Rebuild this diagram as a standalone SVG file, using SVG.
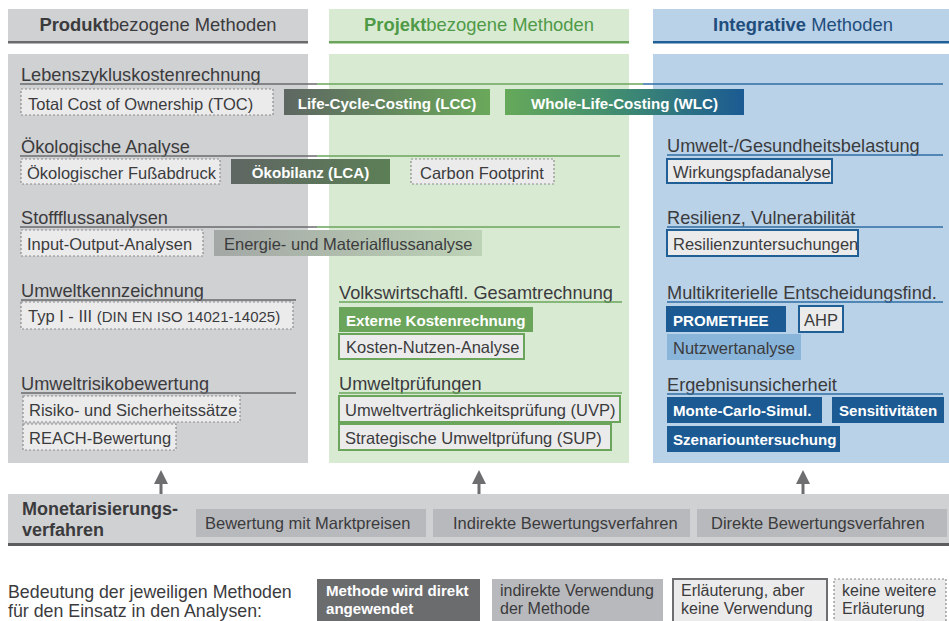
<svg xmlns="http://www.w3.org/2000/svg" width="949" height="621" viewBox="0 0 949 621">
<style>
text{font-family:"Liberation Sans",Arial,sans-serif;fill:#3b3b3d}
.hd{font-size:18.4px}
.sec{font-size:18.2px}
.bx{font-size:16.5px}
.wt{font-size:15.1px;font-weight:bold;fill:#fff}
.dash{fill:#ebebec;stroke:#8c8c8e;stroke-width:1.2;stroke-dasharray:2 2}
.sg{fill:#ebebec;stroke:#6aa55b;stroke-width:2}
.sb{fill:#ebebec;stroke:#1f5f95;stroke-width:2}
.ln{stroke-width:1.5;fill:none}
.lg{stroke:#6a6a6c}.lgr{stroke:#6aa55b}.lb{stroke:#2e6ca4}
.arr{fill:#6e6e70}
</style>
<defs>
<linearGradient id="gLCC" x1="0" x2="1" y1="0" y2="0"><stop offset="0" stop-color="#5e6762"/><stop offset="1" stop-color="#6aa85a"/></linearGradient>
<linearGradient id="gWLC" x1="0" x2="1" y1="0" y2="0"><stop offset="0" stop-color="#66a95a"/><stop offset="0.5" stop-color="#3e8a72"/><stop offset="1" stop-color="#1b5a93"/></linearGradient>
<linearGradient id="gOEK" x1="0" x2="1" y1="0" y2="0"><stop offset="0" stop-color="#5f6663"/><stop offset="1" stop-color="#5c7f56"/></linearGradient>
<linearGradient id="gEN" x1="0" x2="1" y1="0" y2="0"><stop offset="0" stop-color="#a3a7a5"/><stop offset="1" stop-color="#bdd3b6"/></linearGradient>
</defs>

<g id="col-produkt">
<rect x="8" y="9" width="300" height="34" fill="#d0d1d3"/>
<rect x="8" y="41" width="300" height="2.5" fill="#6a6a6c"/>
<text class="hd" x="158" y="31" text-anchor="middle"><tspan font-weight="bold">Produkt</tspan>bezogene Methoden</text>
<rect x="8" y="54" width="300" height="409" fill="#d0d1d3"/>
</g>
<g id="col-projekt">
<rect x="329" y="9" width="300" height="34" fill="#d9ead3"/>
<rect x="329" y="41" width="300" height="2.5" fill="#6aa55b"/>
<text class="hd" x="479" y="31" text-anchor="middle" style="fill:#4f9a47"><tspan font-weight="bold">Projekt</tspan>bezogene Methoden</text>
<rect x="329" y="54" width="300" height="409" fill="#d9ead3"/>
</g>
<g id="col-integrativ">
<rect x="653" y="9" width="296" height="34" fill="#bad2e8"/>
<rect x="653" y="41" width="296" height="2.5" fill="#1f5f95"/>
<text class="hd" x="803" y="31" text-anchor="middle" style="fill:#1f4e7d"><tspan font-weight="bold">Integrative</tspan> Methoden</text>
<rect x="653" y="54" width="296" height="409" fill="#bad2e8"/>
</g>

<g id="sections">
<text class="sec" x="21" y="81">Lebenszykluskostenrechnung</text>
<line class="ln lg" x1="20" y1="84" x2="317" y2="84"/><line class="ln lgr" x1="317" y1="84" x2="643" y2="84"/><line class="ln lb" x1="643" y1="84" x2="943" y2="84"/>
<text class="sec" x="21" y="153">Ökologische Analyse</text>
<line class="ln lg" x1="20" y1="156" x2="317" y2="156"/><line class="ln lgr" x1="317" y1="156" x2="620" y2="156"/>
<text class="sec" x="21" y="224">Stoffflussanalysen</text>
<line class="ln lg" x1="20" y1="227" x2="317" y2="227"/><line class="ln lgr" x1="317" y1="227" x2="620" y2="227"/>
<text class="sec" x="667" y="152">Umwelt-/Gesundheitsbelastung</text>
<line class="ln lb" x1="667" y1="155" x2="943" y2="155"/>
<text class="sec" x="667" y="224">Resilienz, Vulnerabilität</text>
<line class="ln lb" x1="667" y1="227" x2="943" y2="227"/>
<text class="sec" x="21" y="297">Umweltkennzeichnung</text>
<line class="ln lg" x1="21" y1="300" x2="296" y2="300"/>
<text class="sec" x="339" y="299">Volkswirtschaftl. Gesamtrechnung</text>
<line class="ln lgr" x1="339" y1="302" x2="622" y2="302"/>
<text class="sec" x="667" y="299">Multikriterielle Entscheidungsfind.</text>
<line class="ln lb" x1="667" y1="302" x2="943" y2="302"/>
<text class="sec" x="21" y="390">Umweltrisikobewertung</text>
<line class="ln lg" x1="21" y1="393" x2="296" y2="393"/>
<text class="sec" x="339" y="390">Umweltprüfungen</text>
<line class="ln lgr" x1="339" y1="393" x2="622" y2="393"/>
<text class="sec" x="667" y="391">Ergebnisunsicherheit</text>
<line class="ln lb" x1="667" y1="394" x2="943" y2="394"/>
</g>

<g id="toc"><rect class="dash" x="21" y="89" width="252" height="26"/><text class="bx" x="28" y="109.5">Total Cost of Ownership (TOC)</text></g>
<g id="lcc"><rect x="284" y="89" width="206" height="26" fill="url(#gLCC)"/><text class="wt" x="387" y="108.5" text-anchor="middle">Life-Cycle-Costing (LCC)</text></g>
<g id="wlc"><rect x="505" y="89" width="239" height="26" fill="url(#gWLC)"/><text class="wt" x="624.5" y="108.5" text-anchor="middle">Whole-Life-Costing (WLC)</text></g>

<g id="fussabdruck"><rect class="dash" x="21" y="159" width="199" height="25"/><text class="bx" x="27" y="178.5">Ökologischer Fußabdruck</text></g>
<g id="oekobilanz"><rect x="231" y="159" width="159" height="25" fill="url(#gOEK)"/><text class="wt" x="310.5" y="178" text-anchor="middle">Ökobilanz (LCA)</text></g>
<g id="carbon"><rect class="dash" x="411" y="159" width="143" height="25"/><text class="bx" x="420" y="178.5">Carbon Footprint</text></g>
<g id="wirkung"><rect class="sb" x="667" y="159" width="165" height="24"/><text class="bx" x="673" y="178">Wirkungspfadanalyse</text></g>

<g id="io"><rect class="dash" x="21" y="230" width="182" height="26"/><text class="bx" x="27" y="250">Input-Output-Analysen</text></g>
<g id="energie"><rect x="214" y="230" width="268" height="26" fill="url(#gEN)"/><text class="bx" x="224" y="250">Energie- und Materialflussanalyse</text></g>
<g id="resilienz"><rect class="sb" x="667" y="230" width="191" height="26"/><text class="bx" x="673" y="250">Resilienzuntersuchungen</text></g>

<g id="typ"><rect class="dash" x="21" y="302" width="272" height="27"/><text class="bx" x="28" y="322">Typ I - III <tspan font-size="15">(DIN EN ISO 14021-14025)</tspan></text></g>
<g id="externe"><rect x="339" y="307" width="194" height="25" fill="#6aa55b"/><text class="wt" x="346" y="326">Externe Kostenrechnung</text></g>
<g id="kna"><rect class="sg" x="339" y="334" width="185" height="25"/><text class="bx" x="346" y="353">Kosten-Nutzen-Analyse</text></g>
<g id="promethee"><rect x="666" y="306" width="120" height="26" fill="#1b5a93"/><text class="wt" x="673" y="325.5">PROMETHEE</text></g>
<g id="ahp"><rect class="sb" x="799" y="306" width="44" height="26"/><text class="bx" x="804" y="325.5">AHP</text></g>
<g id="nutzwert"><rect x="667" y="334" width="134" height="26" fill="#8ab5da"/><text class="bx" x="673" y="353.5">Nutzwertanalyse</text></g>

<g id="risiko"><rect class="dash" x="23" y="396" width="217" height="26"/><text class="bx" x="29" y="415.5">Risiko- und Sicherheitssätze</text></g>
<g id="reach"><rect class="dash" x="23" y="424" width="153" height="26"/><text class="bx" x="29" y="443.5">REACH-Bewertung</text></g>
<g id="uvp"><rect class="sg" x="339" y="396" width="281" height="26"/><text class="bx" x="345" y="415.5">Umweltverträglichkeitsprüfung (UVP)</text></g>
<g id="sup"><rect class="sg" x="339" y="424" width="272" height="26"/><text class="bx" x="345" y="443.5">Strategische Umweltprüfung (SUP)</text></g>
<g id="monte"><rect x="667" y="397" width="155" height="26" fill="#1b5a93"/><text class="wt" x="673" y="416">Monte-Carlo-Simul.</text></g>
<g id="sensi"><rect x="832" y="397" width="112" height="26" fill="#1b5a93"/><text class="wt" x="839" y="416">Sensitivitäten</text></g>
<g id="szenario"><rect x="667" y="426" width="173" height="26" fill="#1b5a93"/><text class="wt" x="673" y="445">Szenariountersuchung</text></g>

<g id="monetarisierung">
<rect x="8" y="494" width="941" height="49" fill="#d0d1d3"/>
<rect x="8" y="543" width="941" height="3" fill="#5c5c5e"/>
<text x="22" y="515" font-size="18" font-weight="bold">Monetarisierungs-</text>
<text x="22" y="536" font-size="18" font-weight="bold">verfahren</text>
</g>
<g id="marktpreise"><rect x="196" y="509" width="230" height="28" fill="#b8b9bc"/><text class="bx" x="205" y="528.5">Bewertung mit Marktpreisen</text></g>
<g id="indirekt"><rect x="433" y="509" width="257" height="28" fill="#b8b9bc"/><text class="bx" x="453" y="528.5">Indirekte Bewertungsverfahren</text></g>
<g id="direkt"><rect x="697" y="509" width="250" height="28" fill="#b8b9bc"/><text class="bx" x="711" y="528.5">Direkte Bewertungsverfahren</text></g>

<g id="connectors">
<rect class="arr" x="159.5" y="482" width="3" height="12"/><polygon class="arr" points="161,470 168,484 154,484"/>
<rect class="arr" x="477.5" y="482" width="3" height="12"/><polygon class="arr" points="479,470 486,484 472,484"/>
<rect class="arr" x="801.5" y="482" width="3" height="12"/><polygon class="arr" points="803,470 810,484 796,484"/>
</g>

<g id="legend">
<text x="8" y="598" font-size="17.8">Bedeutung der jeweiligen Methoden</text>
<text x="8" y="616.5" font-size="17.8">für den Einsatz in den Analysen:</text>
<g id="leg-direkt"><rect x="317" y="579" width="163" height="42" fill="#6b6c6e"/><text class="wt" x="326" y="596">Methode wird direkt</text><text class="wt" x="326" y="614">angewendet</text></g>
<g id="leg-indirekt"><rect x="492" y="579" width="171" height="42" fill="#b8b9bc"/><text x="500" y="596" font-size="16">indirekte Verwendung</text><text x="500" y="614" font-size="16">der Methode</text></g>
<g id="leg-erl"><rect x="673" y="579" width="154" height="44" fill="#ebebec" stroke="#6e6e70" stroke-width="2"/><text x="681" y="596" font-size="16">Erläuterung, aber</text><text x="681" y="614" font-size="16">keine Verwendung</text></g>
<g id="leg-keine"><rect class="dash" x="834" y="579" width="112" height="44"/><text x="842" y="596" font-size="16">keine weitere</text><text x="842" y="614" font-size="16">Erläuterung</text></g>
</g>
</svg>
